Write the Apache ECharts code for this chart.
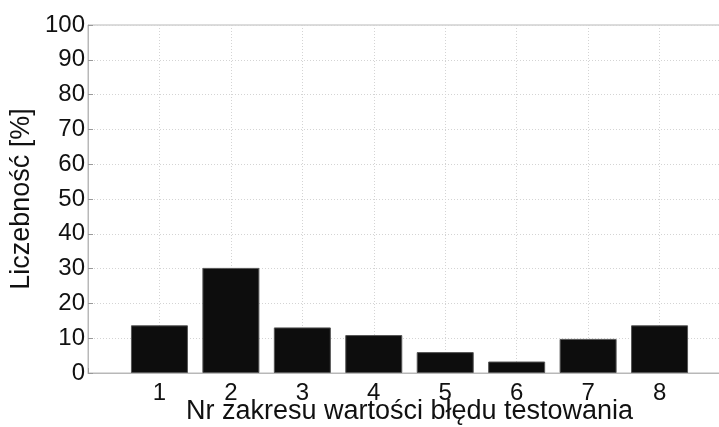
<!DOCTYPE html>
<html>
<head>
<meta charset="utf-8">
<script src="https://cdn.jsdelivr.net/npm/echarts@6/dist/echarts.min.js"></script>
<style>
  html, body { margin: 0; padding: 0; background: #fff; }
  #chart { width: 719px; height: 427px; }
</style>
</head>
<body>
<div id="chart"></div>
<script>
// numery zakresów i liczebność [%]
const ranges = [1, 2, 3, 4, 5, 6, 7, 8]
const counts = [13.7, 30.2, 13.1, 10.9, 6.0, 3.3, 9.8, 13.7]

const chart = echarts.init(document.getElementById('chart'))

const font = 'Liberation Sans, Arial, sans-serif'
const gridLine = { show: true, lineStyle: { color: '#d4d4d4', type: [1, 2], width: 1 } }

const option = {
  animation: false,
  backgroundColor: '#fff',
  grid: {
    left: 88,
    right: -12,
    top: 25,
    bottom: 54,
    outerBoundsMode: 'none',
    containLabel: false,
    show: true,
    borderColor: '#b8b8b8',
    borderWidth: 1
  },
  xAxis: {
    type: 'value',
    min: 0,
    max: 9,
    interval: 1,
    name: 'Nr zakresu wartości błędu testowania',
    nameLocation: 'middle',
    nameGap: 25,
    nameMoveOverlap: false,
    nameTextStyle: { color: '#111', fontSize: 27, fontFamily: font },
    axisLine: { show: true, lineStyle: { color: '#b8b8b8' } },
    axisTick: { show: true, inside: true, length: 5, lineStyle: { color: '#999' } },
    axisLabel: {
      color: '#111',
      fontSize: 24,
      fontFamily: font,
      margin: 8,
      formatter: (v) => (ranges.indexOf(v) >= 0 ? String(v) : '')
    },
    splitLine: gridLine
  },
  yAxis: {
    type: 'value',
    min: 0,
    max: 100,
    interval: 10,
    name: 'Liczebność [%]',
    nameLocation: 'middle',
    nameGap: 53,
    nameMoveOverlap: false,
    nameTextStyle: { color: '#111', fontSize: 27, fontFamily: font },
    axisLine: { show: true, lineStyle: { color: '#b8b8b8' } },
    axisTick: { show: true, inside: true, length: 5, lineStyle: { color: '#999' } },
    axisLabel: { color: '#111', fontSize: 24, fontFamily: font, margin: 3 },
    splitLine: gridLine
  },
  series: [{
    type: 'bar',
    data: ranges.map((r, i) => [r, counts[i]]),
    barWidth: 57,
    itemStyle: { color: '#0d0d0d', borderColor: '#555', borderWidth: 1 }
  }]
}

chart.setOption(option)
</script>
</body>
</html>
